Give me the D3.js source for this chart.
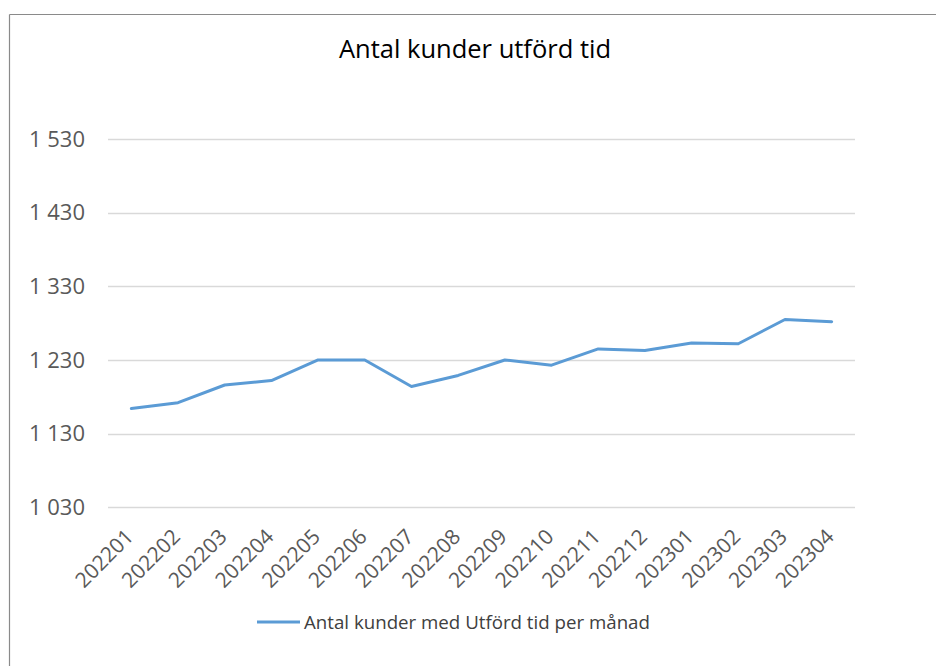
<!DOCTYPE html>
<html>
<head>
<meta charset="utf-8">
<script src="https://cdn.jsdelivr.net/npm/d3@7"></script>
<style>
  body { margin: 0; background: #fff; }
  svg { display: block; font-family: "Open Sans", "Liberation Sans", Arial, sans-serif; }
</style>
</head>
<body>
<svg id="chart" width="936" height="666"></svg>
<script>
var months = ["202201","202202","202203","202204","202205","202206","202207","202208",
              "202209","202210","202211","202212","202301","202302","202303","202304"];
var kunder = [1164, 1172, 1196, 1202, 1230, 1230, 1194, 1209,
              1230, 1223, 1245, 1243, 1253, 1252, 1285, 1282];
var yTicks = [1030, 1130, 1230, 1330, 1430, 1530];
var title = "Antal kunder utförd tid";
var seriesName = "Antal kunder med Utförd tid per månad";

var fontFam = "Open Sans, Liberation Sans, Arial, sans-serif";
var svg = d3.select("#chart");

// frame (only top and left edges visible in the crop)
svg.append("line").attr("x1", 9.5).attr("x2", 936).attr("y1", 14.5).attr("y2", 14.5)
  .attr("stroke", "#8a8a8a").attr("stroke-width", 1.2);
svg.append("line").attr("x1", 9.5).attr("x2", 9.5).attr("y1", 14.5).attr("y2", 666)
  .attr("stroke", "#8a8a8a").attr("stroke-width", 1.2);

var x = d3.scalePoint().domain(months).range([108, 855]).padding(0.5);
var y = d3.scaleLinear().domain([1030, 1530]).range([507.3, 139]);

// gridlines
svg.append("g").selectAll("line").data(yTicks).enter().append("line")
  .attr("x1", 108).attr("x2", 855)
  .attr("y1", function(d){ return Math.round(y(d)) + 0.5; })
  .attr("y2", function(d){ return Math.round(y(d)) + 0.5; })
  .attr("stroke", "#d9d9d9").attr("stroke-width", 1.3);

// y axis labels
var fmt = function(d){ return d3.format(",")(d).replace(",", " "); };
var yAxis = d3.axisLeft(y).tickValues(yTicks).tickFormat(fmt).tickSize(0).tickPadding(0);
var gy = svg.append("g").attr("transform", "translate(85,0)").call(yAxis);
gy.select(".domain").remove();
gy.selectAll("text").attr("font-size", 22).attr("fill", "#595959")
  .attr("font-family", fontFam);

// x axis labels, rotated
var xAxis = d3.axisBottom(x).tickSize(0).tickPadding(0);
var gx = svg.append("g").attr("transform", "translate(0,507)").call(xAxis);
gx.select(".domain").remove();
gx.selectAll("text")
  .attr("font-size", 21).attr("fill", "#595959")
  .attr("font-family", fontFam)
  .attr("text-anchor", "end")
  .attr("dy", null).attr("y", null)
  .attr("transform", "translate(3,31) rotate(-45)");

// line
var line = d3.line()
  .x(function(d, i){ return x(months[i]); })
  .y(function(d){ return y(d); });
svg.append("path").datum(kunder)
  .attr("d", line)
  .attr("fill", "none")
  .attr("stroke", "#5b9bd5")
  .attr("stroke-width", 3)
  .attr("stroke-linejoin", "round")
  .attr("stroke-linecap", "round");

// title
svg.append("text").attr("x", 475).attr("y", 58)
  .attr("text-anchor", "middle").attr("font-size", 25.5).attr("fill", "#000")
  .attr("font-family", fontFam)
  .text(title);

// legend
svg.append("line").attr("x1", 257).attr("x2", 300).attr("y1", 622).attr("y2", 622)
  .attr("stroke", "#5b9bd5").attr("stroke-width", 3);
svg.append("text").attr("x", 304).attr("y", 629)
  .attr("font-size", 18.7).attr("fill", "#404040")
  .attr("font-family", fontFam)
  .text(seriesName);
</script>
</body>
</html>
